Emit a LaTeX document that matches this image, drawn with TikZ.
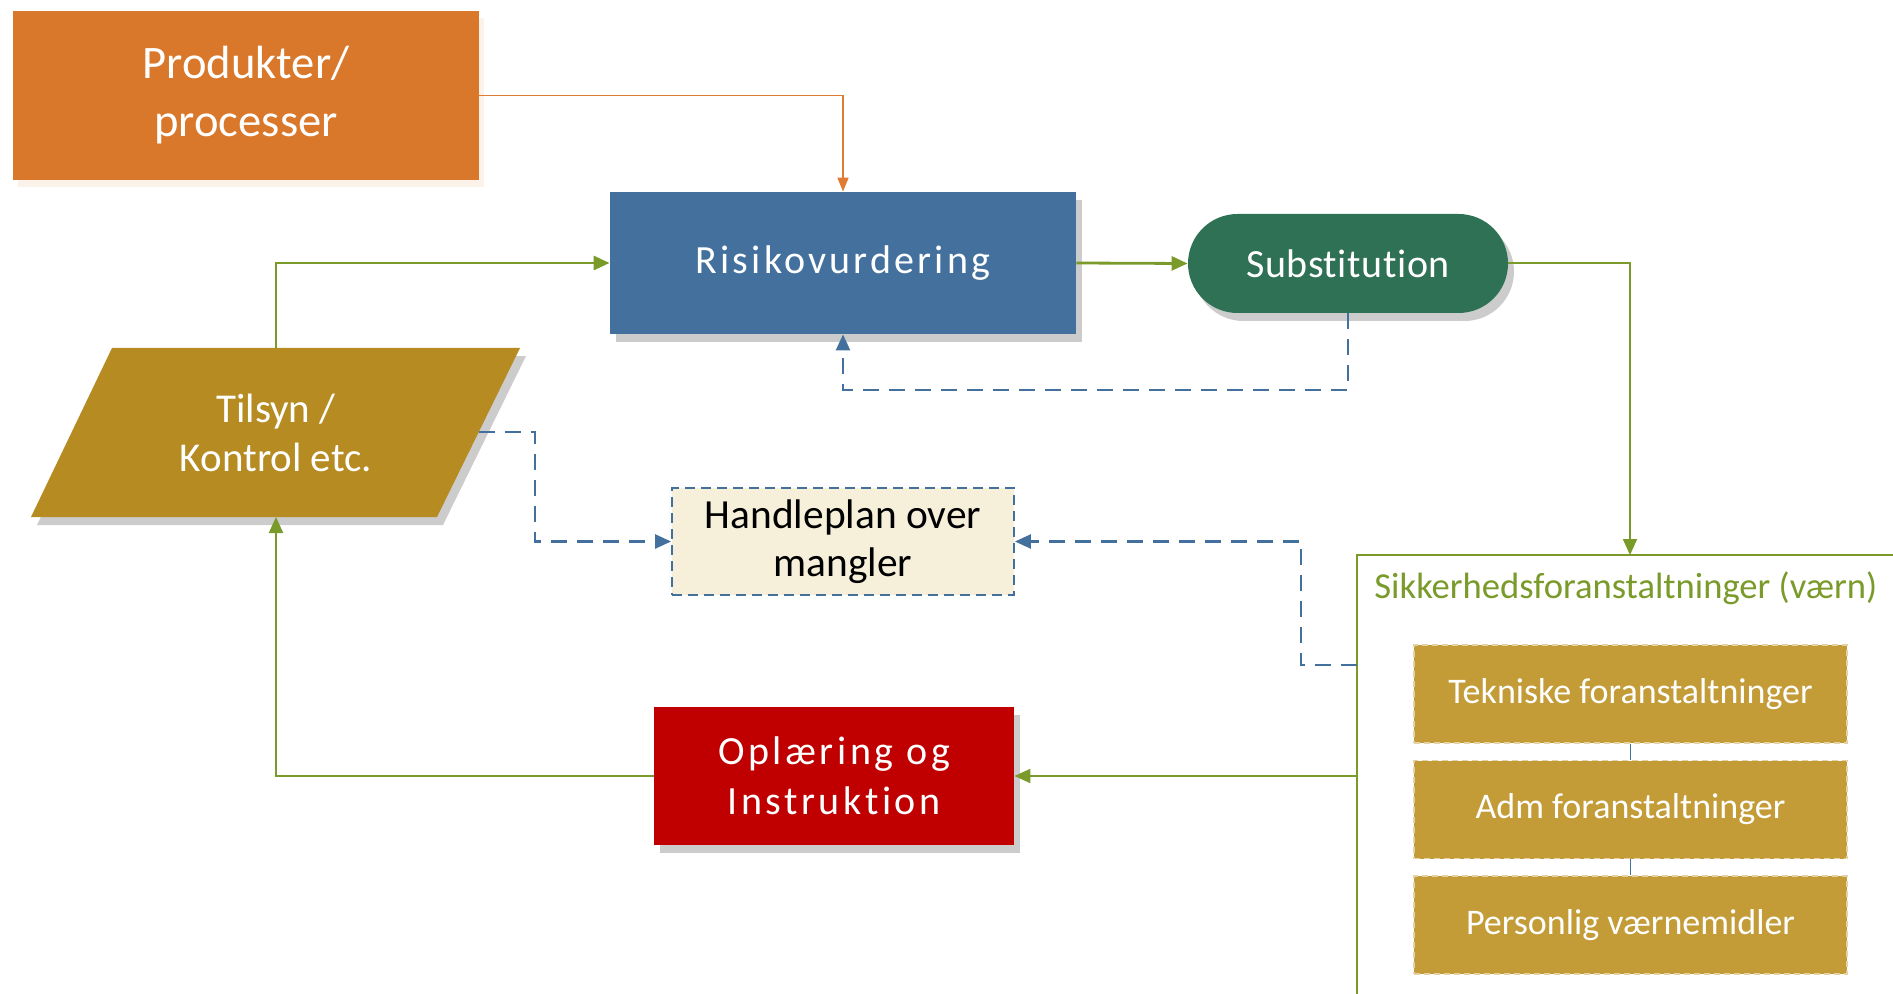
\documentclass[tikz,border=0pt]{standalone}
\usepackage{fontspec}
\setmainfont{Carlito}[Ligatures=NoCommon]
\usetikzlibrary{arrows.meta,shadows}
\definecolor{cOrange}{HTML}{D9782B}
\definecolor{cOrLine}{HTML}{E07B33}
\definecolor{cBlue}{HTML}{44709D}
\definecolor{cSubst}{HTML}{2E7155}
\definecolor{cTilsyn}{HTML}{B58B22}
\definecolor{cRed}{HTML}{C00000}
\definecolor{cCream}{HTML}{F6EFD9}
\definecolor{cInner}{HTML}{C39C38}
\definecolor{cGreen}{HTML}{7A9A2A}
\begin{document}
\begin{tikzpicture}[x=0.5pt,y=-0.5pt,
  box/.style={draw=none, text=white, align=center, inner sep=0pt},
  gshadow/.style={drop shadow={fill=black!20, opacity=1, shadow xshift=3pt, shadow yshift=-4pt}},
  pshadow/.style={drop shadow={fill=cOrange!10, opacity=1, shadow xshift=2.5pt, shadow yshift=-3.5pt}},
  innerbox/.style={box, fill=cInner, draw=white!55!cInner, dash pattern=on 3pt off 2pt, line width=0.8pt,
    minimum width=216.5pt, minimum height=49pt, font=\fontsize{18}{22}\selectfont},
  gline/.style={draw=cGreen, line width=1pt},
  garrow/.style={gline, -{Triangle[length=8pt,width=7pt]}},
  bdash/.style={draw=cBlue, line width=1.2pt, dash pattern=on 8pt off 5pt},
  barrow/.style={bdash, -{Triangle[length=8pt,width=7pt]}},
]
\useasboundingbox (0,0) rectangle (1893,994);

% nodes
\node[box, fill=cOrange, minimum width=233pt, minimum height=84.5pt, pshadow,
  font=\fontsize{23.3}{29}\selectfont] (prod) at (246,95.5) {Produkter/\\processer};
\node[box, fill=cBlue, minimum width=233pt, minimum height=71pt, gshadow,
  font=\fontsize{20}{24}\selectfont\addfontfeatures{LetterSpace=8}] (risk) at (843,263) {Risikovurdering};
\node[box, fill=cSubst, rounded corners=24.75pt, minimum width=160pt, minimum height=49.5pt, gshadow,
  font=\fontsize{20}{24}\selectfont\addfontfeatures{LetterSpace=1.5}] (subst) at (1348,263.5) {Substitution};

\fill[cTilsyn, gshadow] (112,348) -- (520,348) -- (437,517) -- (31,517) -- cycle;
\node[box, font=\fontsize{20.5}{24.75}\selectfont] (tilsyn) at (276,433) {Tilsyn /\\Kontrol etc.};
\coordinate (tilsynTop) at (276,348);
\coordinate (tilsynBot) at (276,517);
\coordinate (tilsynE) at (478.5,432);

\node[box, text=black, fill=cCream, draw=cBlue, line width=0.9pt, dash pattern=on 5pt off 3pt,
  minimum width=171pt, minimum height=53.5pt, font=\fontsize{20.7}{24}\selectfont] (handle) at (843,541.5) {Handleplan over\\mangler};

\node[box, fill=cRed, minimum width=180pt, minimum height=69pt, gshadow,
  font=\fontsize{20}{24.75}\selectfont\addfontfeatures{LetterSpace=9}] (oplaer) at (834,776) {Oplæring og\\Instruktion};

% container
\draw[cGreen, line width=0.7pt] (1893,555) -- (1357,555) -- (1357,994);
\coordinate (cTop) at (1630,555);
\coordinate (cDash) at (1357,665);
\coordinate (cOut) at (1357,776);
\node[anchor=base west, text=cGreen, inner sep=0pt, font=\fontsize{18.3}{22}\selectfont] (ctitle) at (1374,598) {Sikkerhedsforanstaltninger (værn)};

\node[innerbox] (b1) at (1630.5,694) {Tekniske foranstaltninger};
\node[innerbox] (b2) at (1630.5,809.5) {Adm foranstaltninger};
\node[innerbox] (b3) at (1630.5,925) {Personlig værnemidler};
\draw[cBlue, line width=0.6pt] (b1.south) -- (b2.north);
\draw[cBlue, line width=0.6pt] (b2.south) -- (b3.north);

% connectors
\draw[draw=cOrLine, line width=0.8pt, -{Triangle[length=7pt,width=5.5pt]}] (prod.east) -| (risk.north);
\draw[garrow, line width=1.4pt] (tilsynTop) |- (risk.west);
\draw[garrow, line width=1.4pt] (risk.east) -- (subst.west);
\draw[garrow] (subst.east) -| (cTop);
\coordinate (d1) at (1348,390);
\draw[barrow] (subst.south) -- (d1) -| (risk.south);
\coordinate (d2) at (535,541.5);
\draw[barrow] (tilsynE) -| (d2) -- (handle.west);
\coordinate (d3) at (1301,541.5);
\draw[barrow] (cDash) -| (d3) -- (handle.east);
\draw[garrow] (cOut) -- (oplaer.east);
\draw[garrow] (oplaer.west) -| (tilsynBot);
\end{tikzpicture}
\end{document}
